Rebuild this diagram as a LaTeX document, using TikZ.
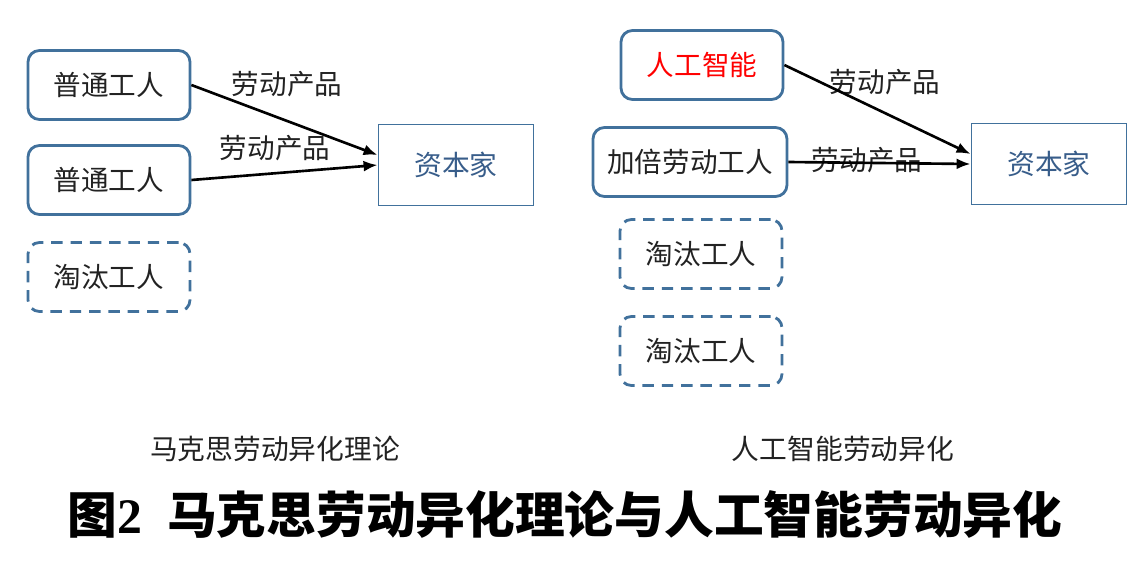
\documentclass[tikz,border=0pt]{standalone}
\usepackage{fontspec}
\setmainfont{Noto Sans CJK SC}
\newfontfamily\numfont{Liberation Serif}
\usepackage{tikz}
\usetikzlibrary{arrows.meta,calc,positioning}
\definecolor{edgeblue}{RGB}{65,113,156}
\definecolor{capblue}{RGB}{56,93,138}
\definecolor{boxtext}{RGB}{34,34,34}
\tikzset{
  worker/.style={rectangle,rounded corners=6.5pt,draw=edgeblue,line width=1.6pt,
    minimum width=3.24cm,minimum height=1.38cm,inner sep=2pt,
    text=boxtext,font=\fontsize{15.7}{18}\selectfont},
  ousted/.style={worker,dash pattern=on 6.5pt off 4.5pt},
  capbox/.style={rectangle,draw=edgeblue,line width=1.1pt,
    minimum width=3.1cm,minimum height=1.62cm,inner sep=2pt,
    text=capblue,font=\fontsize{15.8}{18}\selectfont},
  lbl/.style={font=\fontsize{15.7}{18}\selectfont,text=boxtext,inner sep=1pt},
  caplbl/.style={font=\fontsize{15.8}{18}\selectfont,text=boxtext},
  flow/.style={-{Latex[length=2.8mm,width=2.2mm]},line width=1.5pt}
}

\begin{document}
\begin{tikzpicture}[x=0.02cm,y=-0.02cm]
\useasboundingbox (0,0) rectangle (1147,568);
% ---------------- left: Marx ----------------
\node[worker] (wA) at (109,85) {普通工人};
\node[worker] (wB) at (109,180) {普通工人};
\node[ousted] (outL) at (109,277) {淘汰工人};
\node[capbox] (capL) at (456,165) {资本家};
\draw[flow] (wA.east) -- ([yshift=0.2cm]capL.west);
\draw[flow] (wB.east) -- (capL.west);
\node[lbl] (pA) at (287,84) {劳动产品};
\node[lbl] (pB) at (275,148) {劳动产品};
\node[caplbl] (capLt) at (275,449) {马克思劳动异化理论};
% ---------------- right: AI ----------------
\node[worker,text=red] (ai) at (702,65) {人工智能};
\node[worker,minimum width=3.88cm] (dbl) at (690,162) {加倍劳动工人};
\node[ousted] (outRa) at (701,254) {淘汰工人};
\node[ousted] (outRb) at (701,351) {淘汰工人};
\node[capbox] (capR) at (1049,164) {资本家};
\node[lbl] (pC) at (885,82) {劳动产品};
\node[lbl] (pD) at (867,160) {劳动产品};
\draw[flow] (ai.east) -- ([yshift=0.2cm]capR.west);
\draw[flow] (dbl.east) -- (capR.west);
\node[caplbl] (capRt) at (843,449) {人工智能劳动异化};
% ---------------- title ----------------
\node[font=\fontsize{28.3}{32}\selectfont\bfseries] (title) at (565,515)
  {图{\numfont\bfseries 2}\hspace{0.5em}马克思劳动异化理论与人工智能劳动异化};
\end{tikzpicture}
\end{document}
